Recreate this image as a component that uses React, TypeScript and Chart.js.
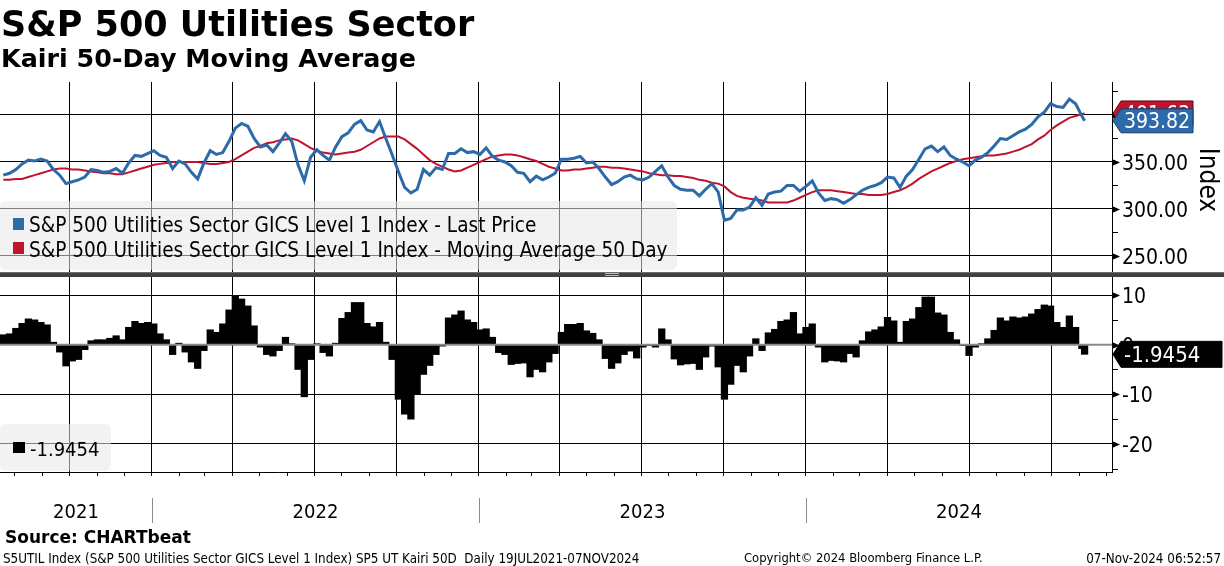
import React, { useEffect, useRef } from 'react';
import { Chart, registerables } from 'chart.js';

Chart.register(...registerables);

// ---------- data ----------
const FIRST_WEEK = '2021-07-19';
const LAST_DATE = '2024-11-07';
const WEEK_COUNT = 173;

const price: number[] = [
  336, 338, 342, 348, 352, 351, 353, 351, 342, 336,
  327, 329, 331, 334, 342, 341, 339, 340, 343, 338,
  349, 357, 356, 359, 362, 357, 355, 343, 351, 348,
  339, 332, 349, 362, 358, 360, 372, 386, 391, 388,
  375, 366, 368, 361, 370, 380, 372, 347, 330, 355,
  363, 357, 352, 366, 377, 381, 390, 394, 384, 382,
  393, 375, 358, 340, 323, 317, 321, 342, 336, 344,
  342, 359, 359, 364, 360, 361, 358, 365, 356, 352,
  350, 346, 339, 338, 329, 335, 331, 334, 338, 353,
  353, 354, 356, 349, 350, 343, 334, 326, 329, 334,
  336, 332, 331, 334, 340, 346, 334, 325, 321, 320,
  320, 314, 321, 327, 318, 288, 290, 299, 299, 302,
  312, 304, 316, 318, 319, 325, 325, 319, 324, 330,
  317, 309, 311, 310, 306, 310, 315, 320, 323, 325,
  328, 334, 333, 323, 335, 342, 353, 364, 367, 361,
  366, 357, 353, 350, 346, 352, 355, 360, 367, 375,
  374, 378, 382, 385, 390, 398, 403, 412, 409, 408,
  417, 412, 399, 393.82,
];

const ma50: number[] = [
  331, 331, 332, 332, 334, 336, 338, 340, 342, 343,
  343, 342, 342, 341, 340, 339, 338, 338, 337, 337,
  339, 341, 343, 345, 347, 348, 349, 350, 350, 350,
  350, 350, 349, 348, 348, 349, 350, 353, 357, 361,
  365, 367, 370, 371, 373, 374, 375, 373, 369, 365,
  362, 360, 359, 358, 359, 360, 361, 363, 367, 371,
  375, 377, 377, 377, 374, 369, 364, 358, 352, 348,
  345, 342, 340, 341, 344, 347, 350, 353, 356, 357,
  358, 358, 357, 355, 353, 351, 348, 345, 343, 341,
  341, 342, 342, 343, 344, 345, 345, 344, 344, 343,
  342, 341, 340, 338, 337, 336, 336, 335, 335, 334,
  333, 331, 330, 328, 327, 324, 318, 314, 312, 311,
  310, 309, 307, 307, 307, 307, 309, 312, 315, 318,
  320, 320, 320, 319, 318, 317, 316, 316, 315, 315,
  315, 316, 318, 320, 323, 327, 332, 336, 340, 343,
  346, 349, 351, 353, 354, 355, 356, 357, 357, 358,
  359, 361, 363, 366, 369, 374, 378, 384, 389, 393,
  397, 399, 401, 401.63,
];

const kairi: number[] = [
  2, 2.2, 3.3, 4.3, 5.2, 5, 4.5, 4, 0.5, -1.5,
  -4.3, -3.3, -3, -1, 0.8, 1, 1, 1.3, 1.8, 1,
  3.5, 4.7, 4.3, 4.5, 4.2, 2.2, 1, -2, 0.3, -1.5,
  -3.5, -4.8, -1.2, 3, 2.5, 4.2, 7, 9.8, 9.2, 7.8,
  3.8, -0.5, -2, -2.3, -1.2, 1.5, 0.2, -5, -10.5, -3,
  0.2, -1.6, -2.3, 0.3, 5.3, 6.5, 8.5, 8.5, 4.3, 3.6,
  4.5, 0.5, -3, -11, -14, -15, -10, -6, -4.2, -2,
  -0.3, 5.4, 6, 6.8, 5, 4.5, 3, 3.2, 1.5, -1.6,
  -2, -4, -3.8, -3.7, -6.5, -5, -5.5, -3.5, -1.8, 2.5,
  4.1, 4.1, 4.3, 2.8, 2.3, 1, -2.8, -4.8, -3.7, -2,
  -1.3, -2.7, -0.5, -0.2, -0.5, 3.2, 1, -2.9, -4.1, -3.9,
  -3.8, -5, -2.5, -0.3, -4.5, -11, -8, -4.2, -5.5, -2.3,
  1.2, -1.2, 2.4, 3.1, 4.7, 5, 6.5, 2.2, 3.5, 4.2,
  -0.5, -3.5, -3.2, -3.3, -3.5, -1.8, -2.5, 0.8, 2.6, 3,
  3.6, 5.5, 4.8, 0.5, 4.7, 5.2, 7.5, 9.6, 9.6, 6.4,
  6, 2.5, 1, -0.2, -2.2, -0.5, 0.2, 1.2, 2.9, 5.4,
  4.8, 5.6, 5.4, 5.6, 6.2, 7.1, 8, 7.8, 4.5, 3.5,
  5.8, 3.5, -0.8, -1.9454,
];

const priceTicks: number[] = [250, 275, 300, 325, 350, 375, 400, 425];
const kairiTicks: number[] = [-25, -20, -15, -10, -5, 0, 5, 10];
const years: string[] = ['2021', '2022', '2023', '2024'];

// ---------- helpers ----------
function ymd(iso: string) {
  const [y, m, d] = iso.split('-').map(Number);
  return Date.UTC(y, m - 1, d);
}
function dayIndex(iso: string): number {
  return Math.round((ymd(iso) - ymd(FIRST_WEEK)) / 86400000);
}
function isoFromDay(n: number): string {
  return new Date(ymd(FIRST_WEEK) + n * 86400000).toISOString().slice(0, 10);
}

const dates: string[] = [
  ...Array.from({ length: WEEK_COUNT }, (_, i) => isoFromDay(i * 7)),
  LAST_DATE,
];

const monthStarts: string[] = [];
for (let y = 2021; y <= 2024; y++) {
  for (let m = 1; m <= 12; m++) {
    const iso = `${y}-${String(m).padStart(2, '0')}-01`;
    if (iso > FIRST_WEEK && iso <= '2024-12-01') monthStarts.push(iso);
  }
}
const monthTickDays = monthStarts.map(dayIndex);
const quarterDays = new Set(
  monthStarts.filter((s) => ['01', '04', '07', '10'].includes(s.slice(5, 7))).map(dayIndex)
);

const X_MIN = -3.66;
const X_MAX = 1237.6;

const BLUE = '#2c6aa9';
const RED = '#c0142e';

const CFONT = (px: number, bold = false) =>
  `${bold ? 'bold ' : ''}${px}px "DejaVu Sans Condensed", "DejaVu Sans", sans-serif`;

function drawTag(
  ctx: CanvasRenderingContext2D,
  axisX: number,
  yc: number,
  half: number,
  right: number,
  text: string,
  fill: string,
  stroke: string,
  fontPx: number
) {
  const tip = axisX + 1;
  const notch = axisX + 9;
  ctx.beginPath();
  ctx.moveTo(tip, yc);
  ctx.lineTo(notch, yc - half);
  ctx.lineTo(right, yc - half);
  ctx.lineTo(right, yc + half);
  ctx.lineTo(notch, yc + half);
  ctx.closePath();
  ctx.fillStyle = fill;
  ctx.fill();
  ctx.strokeStyle = stroke;
  ctx.lineWidth = 1;
  ctx.stroke();
  ctx.fillStyle = '#ffffff';
  ctx.font = CFONT(fontPx);
  ctx.textAlign = 'left';
  ctx.textBaseline = 'alphabetic';
  ctx.fillText(text, axisX + 12, yc + (fontPx * 0.729) / 2);
}

const decor = {
  id: 'decor',
  afterDatasetsDraw(chart: any) {
    const ctx: CanvasRenderingContext2D = chart.ctx;
    const { left, right } = chart.chartArea;
    const y0 = chart.scales.yK.getPixelForValue(0);
    ctx.save();
    ctx.strokeStyle = '#8a8a8a';
    ctx.lineWidth = 2;
    ctx.beginPath();
    ctx.moveTo(left, y0);
    ctx.lineTo(right, y0);
    ctx.stroke();
    ctx.restore();
  },
  afterDraw(chart: any) {
    const ctx: CanvasRenderingContext2D = chart.ctx;
    const { left, right } = chart.chartArea;
    const yP = chart.scales.yP;
    const yK = chart.scales.yK;
    const xS = chart.scales.x;
    const W = chart.width;
    ctx.save();

    // panel separator
    const sepY = yP.bottom;
    ctx.fillStyle = '#404040';
    ctx.fillRect(0, sepY - 2, W, 5);
    ctx.fillStyle = '#6e6e6e';
    ctx.fillRect(0, sepY - 2, W, 1);
    ctx.strokeStyle = '#bdbdbd';
    ctx.lineWidth = 1;
    ctx.beginPath();
    ctx.moveTo(605, sepY - 0.5);
    ctx.lineTo(619, sepY - 0.5);
    ctx.moveTo(605, sepY + 1.5);
    ctx.lineTo(619, sepY + 1.5);
    ctx.stroke();

    // right axis ticks and labels
    const axisX = right;
    const drawAxis = (scale: any, ticks: number[], major: (v: number) => boolean, fmt: (v: number) => string) => {
      ticks.forEach((v) => {
        const y = Math.round(scale.getPixelForValue(v)) + 0.5;
        ctx.fillStyle = '#000';
        ctx.strokeStyle = '#000';
        if (major(v)) {
          ctx.beginPath();
          ctx.moveTo(axisX, y - 3.5);
          ctx.lineTo(axisX + 8, y);
          ctx.lineTo(axisX, y + 3.5);
          ctx.closePath();
          ctx.fill();
          ctx.font = CFONT(21);
          ctx.textAlign = 'left';
          ctx.textBaseline = 'alphabetic';
          ctx.fillText(fmt(v), axisX + 10, y + 7.6);
        } else {
          ctx.lineWidth = 1;
          ctx.beginPath();
          ctx.moveTo(axisX, y);
          ctx.lineTo(axisX + 6, y);
          ctx.stroke();
        }
      });
    };
    drawAxis(yP, priceTicks, (v) => v % 50 === 0, (v) => v.toFixed(2));
    drawAxis(yK, kairiTicks, (v) => v % 10 === 0, (v) => String(v));

    // value tags
    const lastP = price[price.length - 1];
    const lastM = ma50[ma50.length - 1];
    const lastK = kairi[kairi.length - 1];
    drawTag(ctx, axisX, yP.getPixelForValue(lastM), 12.5, axisX + 81, lastM.toFixed(2), RED, '#5a0a14', 21);
    drawTag(ctx, axisX, yP.getPixelForValue(lastP), 12, axisX + 81, lastP.toFixed(2), BLUE, '#173a60', 21);
    drawTag(ctx, axisX, yK.getPixelForValue(lastK), 13, W - 2, lastK.toFixed(4), '#000000', '#000000', 22);

    // axis title
    ctx.save();
    ctx.translate(1207, (yP.top + yP.bottom) / 2 + 2);
    ctx.rotate(Math.PI / 2);
    ctx.fillStyle = '#000';
    ctx.font = CFONT(26);
    ctx.textAlign = 'center';
    ctx.textBaseline = 'middle';
    ctx.fillText('Index', 0, 0);
    ctx.restore();

    // year labels and separators
    ctx.font = CFONT(20);
    ctx.textAlign = 'center';
    ctx.textBaseline = 'alphabetic';
    ctx.fillStyle = '#000';
    years.forEach((yr) => {
      const s = xS.getPixelForValue(dayIndex(`${yr}-01-01`));
      const e = xS.getPixelForValue(dayIndex(`${Number(yr) + 1}-01-01`));
      const a = Math.max(left, s);
      const b = Math.min(right, e);
      ctx.fillText(yr, (a + b) / 2, 518);
      if (s > left) {
        ctx.strokeStyle = '#8a8a8a';
        ctx.lineWidth = 1;
        const xx = Math.round(s) + 0.5;
        ctx.beginPath();
        ctx.moveTo(xx, 498);
        ctx.lineTo(xx, 523);
        ctx.stroke();
      }
    });
    ctx.restore();
  },
};

export default function App() {
  const ref = useRef<HTMLCanvasElement>(null);

  useEffect(() => {
    if (!ref.current) return;
    const xs = dates.map(dayIndex);
    const chart = new Chart(ref.current, {
      type: 'line',
      data: {
        datasets: [
          {
            type: 'line',
            label: 'S&P 500 Utilities Sector GICS Level 1 Index - Last Price',
            data: price.map((v, i) => ({ x: xs[i], y: v })),
            yAxisID: 'yP',
            borderColor: BLUE,
            borderWidth: 3,
            pointRadius: 0,
            tension: 0,
            order: 1,
          },
          {
            type: 'line',
            label: 'S&P 500 Utilities Sector GICS Level 1 Index - Moving Average 50 Day',
            data: ma50.map((v, i) => ({ x: xs[i], y: v })),
            yAxisID: 'yP',
            borderColor: RED,
            borderWidth: 2,
            pointRadius: 0,
            tension: 0,
            order: 2,
          },
          {
            type: 'bar',
            label: 'Kairi 50D',
            data: kairi.map((v, i) => ({ x: xs[i], y: v })),
            yAxisID: 'yK',
            backgroundColor: '#000000',
            borderWidth: 0,
            barThickness: 6.6,
            categoryPercentage: 1,
            barPercentage: 1,
            order: 3,
          } as any,
        ],
      },
      options: {
        animation: false,
        responsive: false,
        maintainAspectRatio: false,
        events: [],
        layout: { padding: { top: 82, left: 0, right: 0, bottom: 0 } },
        plugins: { legend: { display: false }, tooltip: { enabled: false } },
        scales: {
          x: {
            type: 'linear',
            position: 'bottom',
            min: X_MIN,
            max: X_MAX,
            offset: false,
            afterBuildTicks: (s: any) => {
              s.ticks = monthTickDays.map((v) => ({ value: v }));
            },
            afterFit: (s: any) => {
              s.height = 94;
            },
            ticks: { display: false, autoSkip: false },
            grid: {
              offset: false,
              color: (c: any) => (c.tick && quarterDays.has(c.tick.value) ? '#000000' : 'rgba(0,0,0,0)'),
              lineWidth: 1,
              drawTicks: true,
              tickLength: 4,
              tickColor: '#000000',
            },
            border: { display: true, color: '#000000', width: 1 },
          },
          yP: {
            type: 'linear',
            position: 'right',
            stack: 'panels',
            stackWeight: 192,
            min: 230.85,
            max: 435.1,
            afterBuildTicks: (s: any) => {
              s.ticks = priceTicks.map((v) => ({ value: v }));
            },
            afterFit: (s: any) => {
              s.width = 112;
            },
            ticks: { display: false },
            grid: {
              color: (c: any) => (c.tick && c.tick.value % 50 === 0 ? '#000000' : 'rgba(0,0,0,0)'),
              lineWidth: 1,
              drawTicks: false,
            },
            border: { display: true, color: '#000000', width: 1 },
          },
          yK: {
            type: 'linear',
            position: 'right',
            stack: 'panels',
            stackWeight: 198,
            min: -25.64,
            max: 14.23,
            afterBuildTicks: (s: any) => {
              s.ticks = kairiTicks.map((v) => ({ value: v }));
            },
            afterFit: (s: any) => {
              s.width = 112;
            },
            ticks: { display: false },
            grid: {
              color: (c: any) =>
                c.tick && c.tick.value % 10 === 0 && c.tick.value !== 0 ? '#000000' : 'rgba(0,0,0,0)',
              lineWidth: 1,
              drawTicks: false,
            },
            border: { display: true, color: '#000000', width: 1 },
          },
        },
      } as any,
      plugins: [decor as any],
    });
    return () => chart.destroy();
  }, []);

  const reg = '"DejaVu Sans Condensed", "DejaVu Sans", sans-serif';
  const bold = '"DejaVu Sans", sans-serif';
  const lastK = kairi[kairi.length - 1];

  return (
    <div
      style={{
        position: 'absolute',
        left: 0,
        top: 0,
        width: 1224,
        height: 566,
        background: '#ffffff',
        overflow: 'hidden',
        color: '#000',
      }}
    >
      <canvas
        ref={ref}
        width={1224}
        height={566}
        style={{ position: 'absolute', left: 0, top: 0, width: 1224, height: 566 }}
      />
      <div
        style={{
          position: 'absolute', left: 1, top: 7, fontFamily: bold, fontWeight: 'bold',
          fontSize: 35, lineHeight: '35px', whiteSpace: 'nowrap',
        }}
      >
        S&amp;P 500 Utilities Sector
      </div>
      <div
        style={{
          position: 'absolute', left: 1, top: 46.3, fontFamily: bold, fontWeight: 'bold',
          fontSize: 25.4, lineHeight: '25.4px', whiteSpace: 'nowrap',
        }}
      >
        Kairi 50-Day Moving Average
      </div>

      {/* top legend */}
      <div
        style={{
          position: 'absolute', left: 0, top: 201, width: 677, height: 69,
          background: 'rgba(232,232,232,0.55)', borderRadius: 6,
        }}
      />
      <div style={{ position: 'absolute', left: 13, top: 218, width: 11, height: 12, background: BLUE }} />
      <div style={{ position: 'absolute', left: 13, top: 242, width: 11, height: 12, background: RED }} />
      <div
        style={{
          position: 'absolute', left: 29, top: 213, fontFamily: reg, fontSize: 20.6,
          lineHeight: '24.5px', whiteSpace: 'nowrap',
        }}
      >
        <div>S&amp;P 500 Utilities Sector GICS Level 1 Index - Last Price</div>
        <div>S&amp;P 500 Utilities Sector GICS Level 1 Index - Moving Average 50 Day</div>
      </div>

      {/* bottom legend */}
      <div
        style={{
          position: 'absolute', left: 0, top: 424, width: 111, height: 47,
          background: 'rgba(232,232,232,0.55)', borderRadius: 6,
        }}
      />
      <div style={{ position: 'absolute', left: 13, top: 442, width: 12, height: 11, background: '#000' }} />
      <div
        style={{
          position: 'absolute', left: 30, top: 438.8, fontFamily: reg, fontSize: 20,
          lineHeight: '20px', whiteSpace: 'nowrap',
        }}
      >
        {lastK.toFixed(4)}
      </div>

      {/* footer */}
      <div
        style={{
          position: 'absolute', left: 5, top: 529, fontFamily: bold, fontWeight: 'bold',
          fontSize: 17, lineHeight: '17px', whiteSpace: 'nowrap',
        }}
      >
        Source: CHARTbeat
      </div>
      <div
        style={{
          position: 'absolute', left: 3, top: 551.6, fontFamily: reg, fontSize: 13.3,
          lineHeight: '13.3px', whiteSpace: 'pre',
        }}
      >
        {'S5UTIL Index (S&P 500 Utilities Sector GICS Level 1 Index) SP5 UT Kairi 50D  Daily 19JUL2021-07NOV2024'}
      </div>
      <div
        style={{
          position: 'absolute', left: 744, top: 551.8, fontFamily: reg, fontSize: 12.9,
          lineHeight: '12.9px', whiteSpace: 'pre',
        }}
      >
        {'Copyright\u00a9 2024 Bloomberg Finance L.P.'}
      </div>
      <div
        style={{
          position: 'absolute', right: 3, top: 551.6, fontFamily: reg, fontSize: 13.3,
          lineHeight: '13.3px', whiteSpace: 'pre', textAlign: 'right',
        }}
      >
        07-Nov-2024 06:52:57
      </div>
    </div>
  );
}
